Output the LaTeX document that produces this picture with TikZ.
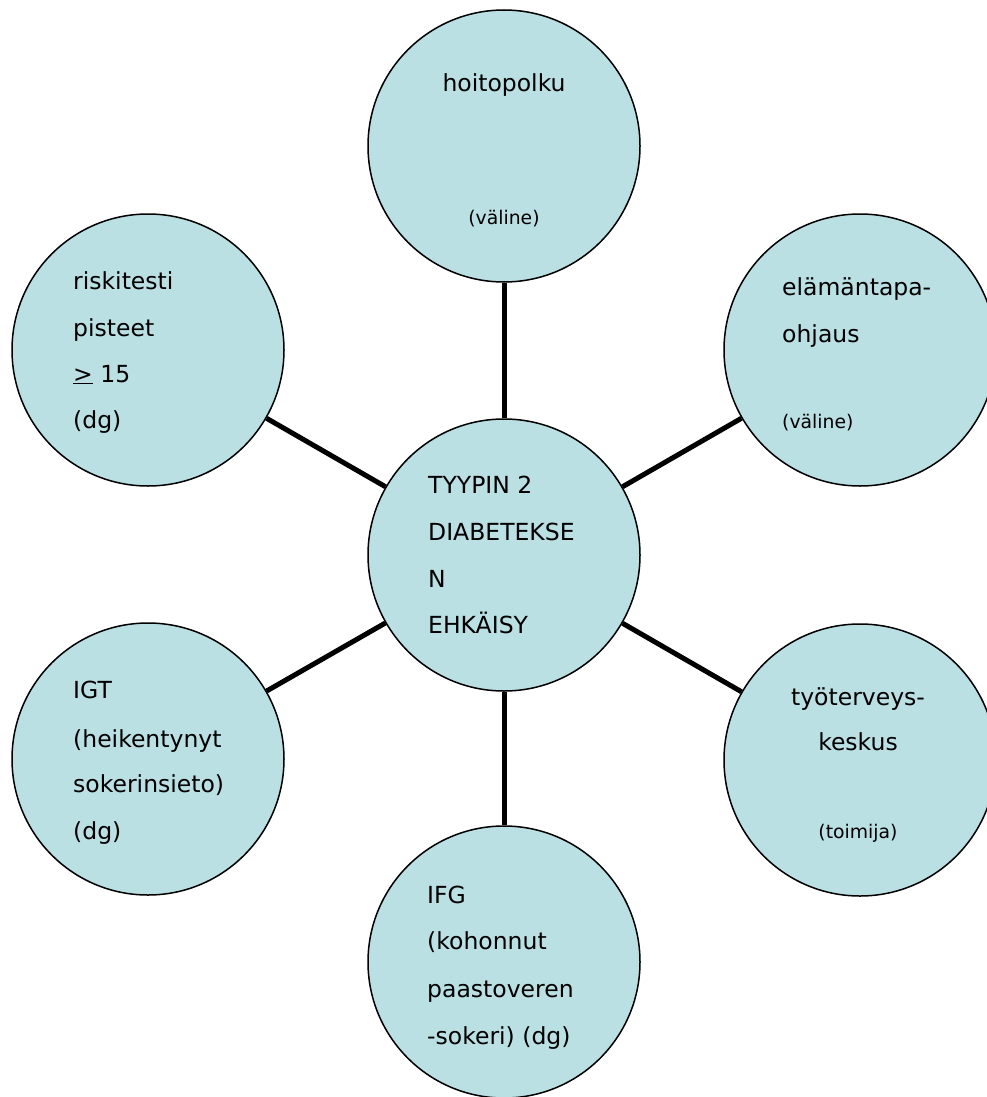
\documentclass[tikz,border=0pt]{standalone}
\usepackage{fontspec}
\setmainfont{DejaVu Sans}
\definecolor{bubble}{HTML}{BAE0E3}
\begin{document}
\begin{tikzpicture}[x=1pt,y=-1pt,
  bub/.style={circle,draw=black,line width=1.5pt,fill=bubble,minimum size=272pt,inner sep=0pt},
  conn/.style={line width=5pt,black},
  big/.style={inner sep=0pt,font=\fontsize{23.5}{28}\selectfont},
  small/.style={inner sep=0pt,font=\fontsize{18.8}{22}\selectfont},
  bl/.style={anchor=base west},
  bc/.style={anchor=base}]
\useasboundingbox (0,0) rectangle (986,1097);
\node[bub] (c) at (504,555) {};
\node[bub] (t) at (504,146) {};
\node[bub] (b) at (504,962) {};
\node[bub] (lt) at (148,350) {};
\node[bub] (rt) at (860,350) {};
\node[bub] (lb) at (148,759) {};
\node[bub] (rb) at (860,760) {};
\foreach \n in {t,b,lt,rt,lb,rb} \draw[conn] (c) -- (\n);
% top
\node[big,bc] (t1) at (504,92) {hoitopolku};
\node[small,bc] (t2) at (504,224) {(väline)};
% left top
\node[big,bl] (lt1) at (73,289) {riskitesti};
\node[big,bl] (lt2) at (73,336) {pisteet};
\node[big,bl] (lt3) at (73,382) {\underline{>} 15};
\node[big,bl] (lt4) at (73,428) {(dg)};
% center
\node[big,bl] (c1) at (428,493) {TYYPIN 2};
\node[big,bl] (c2) at (428,540) {DIABETEKSE};
\node[big,bl] (c3) at (428,587) {N};
\node[big,bl] (c4) at (428,633) {EHKÄISY};
% right top
\node[big,bl] (rt1) at (782,295) {elämäntapa-};
\node[big,bl] (rt2) at (782,342) {ohjaus};
\node[small,bl] (rt3) at (782,428) {(väline)};
% right bottom
\node[big,bc] (rb1) at (858,705) {työterveys-};
\node[big,bc] (rb2) at (858,750) {keskus};
\node[small,bc] (rb3) at (858,838) {(toimija)};
% left bottom
\node[big,bl] (lb1) at (73,698) {IGT};
\node[big,bl] (lb2) at (73,747) {(heikentynyt};
\node[big,bl] (lb3) at (73,792) {sokerinsieto)};
\node[big,bl] (lb4) at (73,839) {(dg)};
% bottom
\node[big,bl] (b1) at (427,903) {IFG};
\node[big,bl] (b2) at (427,949) {(kohonnut};
\node[big,bl] (b3) at (427,997) {paastoveren};
\node[big,bl] (b4) at (427,1044) {-sokeri) (dg)};
\end{tikzpicture}
\end{document}
